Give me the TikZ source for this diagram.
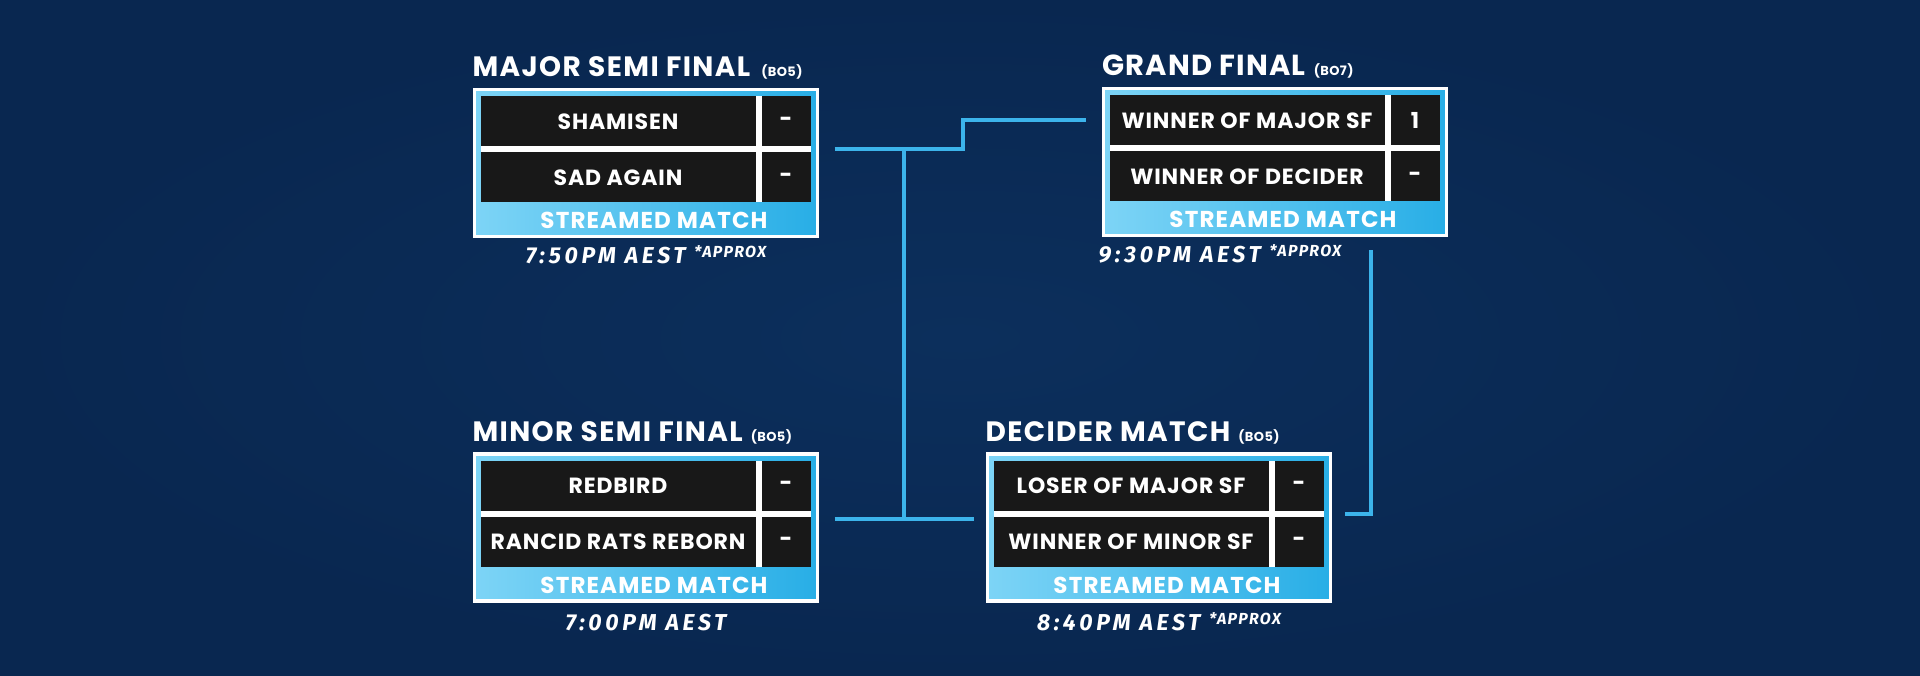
\documentclass[tikz,border=0pt]{standalone}
\usepackage{fontspec}
\usepackage{tikz}
\usetikzlibrary{positioning}
\setmainfont{Poppins}
\newfontfamily\timefont{Fira Sans}
\definecolor{navy}{RGB}{9,39,80}
\definecolor{navylt}{RGB}{12,47,92}
\definecolor{cellbg}{RGB}{24,24,24}
\definecolor{wire}{RGB}{60,180,235}
\definecolor{skylt}{RGB}{125,212,246}
\definecolor{skydk}{RGB}{40,174,230}
\newcommand\apx{\raisebox{6pt}{\fontsize{16}{16}\selectfont\addfontfeature{LetterSpace=8} *APPROX}}

\begin{document}
\begin{tikzpicture}[x=1pt, y=-1pt,
    every node/.style = {inner sep=0pt, outer sep=0pt, text=white},
    matchbox/.style = {draw=white, line width=3.5pt, left color=skylt, right color=skydk,
                       minimum width=343pt, minimum height=147pt},
    rowsbg/.style = {fill=white, minimum width=330pt, minimum height=106pt},
    namecell/.style = {fill=cellbg, minimum width=275pt, minimum height=50pt,
                       font=\bfseries\fontsize{22}{22}\selectfont\addfontfeature{LetterSpace=4}},
    scorecell/.style = {fill=cellbg, minimum width=49pt, minimum height=50pt,
                        font=\bfseries\fontsize{22}{22}\selectfont},
    banner/.style = {font=\bfseries\fontsize{23}{23}\selectfont\addfontfeature{LetterSpace=5}},
    heading/.style = {font=\bfseries\fontsize{28}{28}\selectfont\addfontfeature{LetterSpace=5}},
    bestof/.style = {font=\bfseries\fontsize{13}{13}\selectfont\addfontfeature{LetterSpace=3}},
    kickoff/.style = {font=\timefont\bfseries\itshape\fontsize{23}{23}\selectfont\addfontfeature{LetterSpace=16}},
    link/.style = {draw=wire, line width=4pt}
  ]
  \useasboundingbox (0,0) rectangle (1920,676);
  \shade[inner color=navylt, outer color=navy] (0,0) rectangle (1920,676);

  % major semi final
  \node[matchbox] (msf) at (646,163) {};
  \node[rowsbg, anchor=north west] (msf-rows) at ([shift={(6,7)}]msf.north west) {};
  \node[namecell, anchor=north west] (msf-a) at (msf-rows.north west) {SHAMISEN};
  \node[scorecell, anchor=north east] (msf-as) at (msf-rows.north east) {-};
  \node[namecell, anchor=south west] (msf-b) at (msf-rows.south west) {SAD AGAIN};
  \node[scorecell, anchor=south east] (msf-bs) at (msf-rows.south east) {-};
  \node[banner, anchor=base] (msf-s) at ([shift={(8,-8)}]msf.south) {STREAMED MATCH};
  \node[heading, anchor=base west] (msf-t) at ([shift={(-2,-13)}]msf.north west) {MAJOR SEMI FINAL};
  \node[bestof, base right=11pt of msf-t] (msf-bo) {(BO5)};
  \node[kickoff, anchor=base] (msf-k) at ([shift={(0,27)}]msf.south) {7:50PM AEST \apx};

  % grand final
  \node[matchbox] (gf) at (1275,162) {};
  \node[rowsbg, anchor=north west] (gf-rows) at ([shift={(6,7)}]gf.north west) {};
  \node[namecell, anchor=north west] (gf-a) at (gf-rows.north west) {WINNER OF MAJOR SF};
  \node[scorecell, anchor=north east] (gf-as) at (gf-rows.north east) {1};
  \node[namecell, anchor=south west] (gf-b) at (gf-rows.south west) {WINNER OF DECIDER};
  \node[scorecell, anchor=south east] (gf-bs) at (gf-rows.south east) {-};
  \node[banner, anchor=base] (gf-s) at ([shift={(8,-8)}]gf.south) {STREAMED MATCH};
  \node[heading, anchor=base west, font=\bfseries\fontsize{29}{29}\selectfont\addfontfeature{LetterSpace=4}]
    (gf-t) at ([shift={(-1,-13)}]gf.north west) {GRAND FINAL};
  \node[bestof, base right=8pt of gf-t] (gf-bo) {(BO7)};
  \node[kickoff, anchor=base west] (gf-k) at ([shift={(-5,27)}]gf.south west) {9:30PM AEST \apx};

  % minor semi final
  \node[matchbox] (min) at (646,527.5) {};
  \node[rowsbg, anchor=north west] (min-rows) at ([shift={(6,7)}]min.north west) {};
  \node[namecell, anchor=north west] (min-a) at (min-rows.north west) {REDBIRD};
  \node[scorecell, anchor=north east] (min-as) at (min-rows.north east) {-};
  \node[namecell, anchor=south west] (min-b) at (min-rows.south west) {RANCID RATS REBORN};
  \node[scorecell, anchor=south east] (min-bs) at (min-rows.south east) {-};
  \node[banner, anchor=base] (min-s) at ([shift={(8,-8)}]min.south) {STREAMED MATCH};
  \node[heading, anchor=base west] (min-t) at ([shift={(-2,-13)}]min.north west) {MINOR SEMI FINAL};
  \node[bestof, base right=8pt of min-t] (min-bo) {(BO5)};
  \node[kickoff, anchor=base] (min-k) at ([shift={(0,29)}]min.south) {7:00PM AEST};

  % decider
  \node[matchbox] (dec) at (1159,527.5) {};
  \node[rowsbg, anchor=north west] (dec-rows) at ([shift={(6,7)}]dec.north west) {};
  \node[namecell, anchor=north west] (dec-a) at (dec-rows.north west) {LOSER OF MAJOR SF};
  \node[scorecell, anchor=north east] (dec-as) at (dec-rows.north east) {-};
  \node[namecell, anchor=south west] (dec-b) at (dec-rows.south west) {WINNER OF MINOR SF};
  \node[scorecell, anchor=south east] (dec-bs) at (dec-rows.south east) {-};
  \node[banner, anchor=base] (dec-s) at ([shift={(8,-8)}]dec.south) {STREAMED MATCH};
  \node[heading, anchor=base west] (dec-t) at ([shift={(-2,-13)}]dec.north west) {DECIDER MATCH};
  \node[bestof, base right=8pt of dec-t] (dec-bo) {(BO5)};
  \node[kickoff, anchor=base] (dec-k) at ([shift={(0,29)}]dec.south) {8:40PM AEST \apx};

  % connectors
  \coordinate (msf-out) at ([xshift=24pt]msf-rows.east);
  \coordinate (gf-in) at ([xshift=-24pt]gf-a.west);
  \coordinate (min-out) at ([shift={(24,5)}]min-rows.east);
  \coordinate (dec-in) at ([xshift=-20pt]dec-rows.west);
  \coordinate (dec-out) at ([xshift=21pt]dec-rows.east);
  \coordinate (gf-drop) at ([shift={(96,15)}]gf.south);
  \coordinate (step) at (963,0);
  \coordinate (stem) at (904,0);
  \draw[link] (msf-out) -| (step |- gf-in) -- (gf-in);
  \draw[link] (min-out) -- (dec-in |- min-out);
  \draw[link] (stem |- msf-out) -- (stem |- min-out);
  \draw[link] (gf-drop) |- (dec-out);
\end{tikzpicture}
\end{document}
